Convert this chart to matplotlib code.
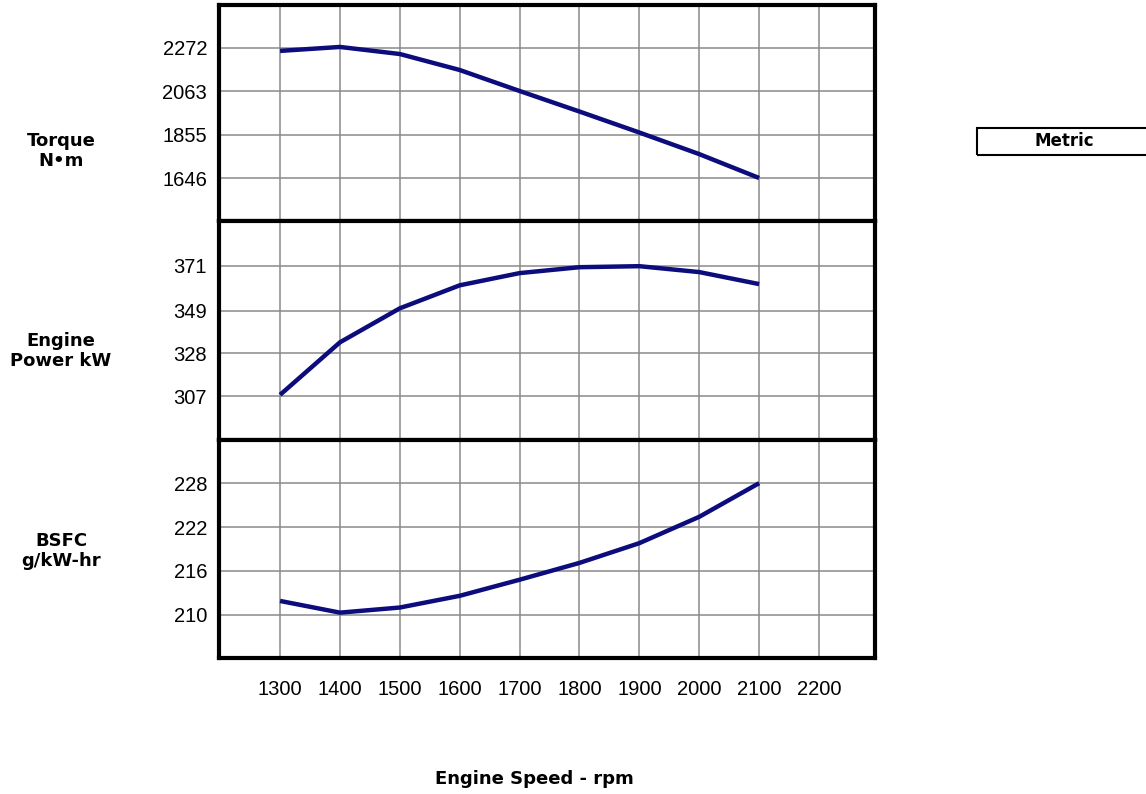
import matplotlib.pyplot as plt
from matplotlib.patches import Rectangle

plt.rcParams['font.family'] = ['Liberation Sans', 'DejaVu Sans']

# engine speed (rpm)
rpm = [1300, 1400, 1500, 1600, 1700, 1800, 1900, 2000, 2100]
x_ticks = [1300, 1400, 1500, 1600, 1700, 1800, 1900, 2000, 2100, 2200]

# curves
torque = [2258, 2277, 2243, 2166, 2065, 1966, 1865, 1761, 1646]
power = [307.6, 333.4, 350.1, 361.4, 367.4, 370.3, 370.8, 367.9, 362.0]
bsfc = [211.9, 210.3, 211.0, 212.6, 214.8, 217.1, 219.8, 223.4, 228.0]

torque_ticks = [1646, 1855, 2063, 2272]
power_ticks = [307, 328, 349, 371]
bsfc_ticks = [210, 216, 222, 228]

W, H = 1146, 794
fig = plt.figure(figsize=(W / 100, H / 100), dpi=100)
BOLD = dict(family='DejaVu Sans', fontweight='bold')

def px_axes(top, bottom, left=219, right=875):
    return fig.add_axes([left / W, 1 - bottom / H, (right - left) / W, (bottom - top) / H])

panels = [
    (5, 221, torque, torque_ticks, (1439, 2479), "Torque\nN\u2022m", 151),
    (221, 440, power, power_ticks, (285.4, 393.0), "Engine\nPower kW", 351),
    (440, 658, bsfc, bsfc_ticks, (204.1, 233.9), "BSFC\ng/kW-hr", 551),
]

for i, (top, bot, vals, ticks, ylim, label, ly) in enumerate(panels):
    ax = px_axes(top, bot)
    ax.plot(rpm, vals, color='#0c0c7c', lw=3.2, solid_capstyle='butt', zorder=3)
    ax.set_xlim(1198, 2293.5)
    ax.set_ylim(*ylim)
    ax.set_xticks(x_ticks)
    ax.set_yticks(ticks)
    ax.set_yticklabels([str(t) for t in ticks], fontsize=14.5)
    ax.grid(True, color='#8a8a8a', lw=1.1)
    ax.set_axisbelow(True)
    ax.tick_params(length=0, pad=8.5)
    for s in ax.spines.values():
        s.set_linewidth(3)
        s.set_color('black')
    if i < 2:
        ax.set_xticklabels([])
    else:
        ax.set_xticklabels([str(t) for t in x_ticks], fontsize=14.5)
        ax.tick_params(axis='x', pad=16)
    fig.text(61 / W, 1 - ly / H, label, ha='center', va='center',
             fontsize=13, linespacing=1.15, **BOLD)

fig.text(534 / W, 1 - 779 / H, "Engine Speed - rpm", ha='center', va='center',
         fontsize=13, **BOLD)

fig.patches.append(Rectangle((977 / W, 1 - 155 / H), 200 / W, 27 / H,
                             transform=fig.transFigure, fill=False,
                             edgecolor='black', lw=1.5))
fig.text(1064 / W, 1 - 141 / H, "Metric", ha='center', va='center',
         fontsize=12, **BOLD)

fig.savefig('out.png', dpi=100)
